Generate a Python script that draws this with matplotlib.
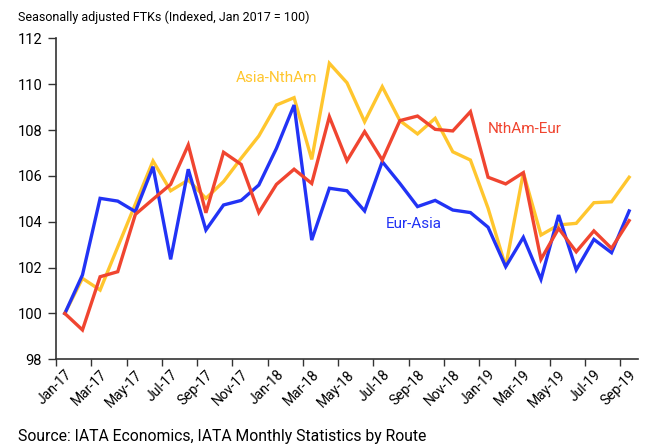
import matplotlib
matplotlib.use("Agg")
import matplotlib.pyplot as plt
import numpy as np

plt.rcParams['font.family'] = ['Roboto', 'DejaVu Sans']

months = ["Jan-17", "Feb-17", "Mar-17", "Apr-17", "May-17", "Jun-17", "Jul-17", "Aug-17",
          "Sep-17", "Oct-17", "Nov-17", "Dec-17", "Jan-18", "Feb-18", "Mar-18", "Apr-18",
          "May-18", "Jun-18", "Jul-18", "Aug-18", "Sep-18", "Oct-18", "Nov-18", "Dec-18",
          "Jan-19", "Feb-19", "Mar-19", "Apr-19", "May-19", "Jun-19", "Jul-19", "Aug-19",
          "Sep-19"]

eur_asia = [100.0, 101.68, 105.02, 104.9, 104.44, 106.4, 102.36, 106.29, 103.64, 104.73,
            104.93, 105.6, 107.2, 109.09, 103.2, 105.46, 105.35, 104.47, 106.62, 105.67,
            104.66, 104.93, 104.51, 104.4, 103.76, 102.04, 103.32, 101.49, 104.29, 101.9,
            103.23, 102.65, 104.47]

asia_ntham = [100.0, 101.53, 101.02, 102.9, 104.77, 106.65, 105.35, 105.82, 105.02, 105.75,
              106.77, 107.74, 109.09, 109.41, 106.72, 110.91, 110.06, 108.36, 109.89, 108.41,
              107.83, 108.51, 107.05, 106.69, 104.59, 102.04, 106.14, 103.42, 103.86, 103.93,
              104.83, 104.87, 105.94]

ntham_eur = [100.0, 99.28, 101.6, 101.82, 104.32, 104.98, 105.63, 107.35, 104.39, 107.03,
             106.5, 104.4, 105.63, 106.29, 105.67, 108.58, 106.66, 107.93, 106.69, 108.41,
             108.61, 108.03, 107.96, 108.8, 105.94, 105.65, 106.14, 102.36, 103.71, 102.69,
             103.6, 102.84, 104.05]

yticks = [98, 100, 102, 104, 106, 108, 110, 112]

BLUE = "#2233F5"
YELLOW = "#FFC62E"
RED = "#F04530"

fig = plt.figure(figsize=(6.49, 4.46), dpi=100)
ax = fig.add_axes([0.0863, 0.1944, 0.8967, 0.7197])

x = np.arange(len(months))
ax.plot(x, eur_asia, color=BLUE, lw=2.4, solid_joinstyle='miter', zorder=3)
ax.plot(x, asia_ntham, color=YELLOW, lw=2.4, solid_joinstyle='miter', zorder=2)
ax.plot(x, ntham_eur, color=RED, lw=2.4, solid_joinstyle='miter', zorder=4)

ax.set_xlim(-0.5, len(months) - 0.5)
ax.set_ylim(98, 112)
ax.set_yticks(yticks)
ax.set_yticklabels([str(v) for v in yticks], fontsize=10.5)

# major ticks at category boundaries, labels at category centres
ax.set_xticks(np.arange(-0.5, len(months) - 0.5, 2))
ax.set_xticklabels([])
ax.set_xticks(x[::2], minor=True)
ax.set_xticklabels(months[::2], minor=True, rotation=45, ha='right', va='top',
                   rotation_mode='anchor', fontsize=10)
ax.tick_params(axis='x', which='minor', length=0, pad=6)
ax.tick_params(axis='x', which='major', length=5, width=1, color='#333333')
ax.tick_params(axis='y', length=6, width=1, color='#333333', pad=4)

for s in ['top', 'right']:
    ax.spines[s].set_visible(False)
for s in ['left', 'bottom']:
    ax.spines[s].set_color('#333333')
    ax.spines[s].set_linewidth(1.2)

ax.text(12.0, 110.27, "Asia-NthAm", color=YELLOW, fontsize=11, ha='center', va='center')
ax.text(26.05, 108.04, "NthAm-Eur", color=RED, fontsize=11, ha='center', va='center')
ax.text(19.8, 103.9, "Eur-Asia", color=BLUE, fontsize=11, ha='center', va='center')

fig.text(18 / 649, 1 - 17 / 446, "Seasonally adjusted FTKs (Indexed, Jan 2017 = 100)",
         fontsize=9.0, ha='left', va='center')
fig.text(18 / 649, 1 - 437 / 446, "Source: IATA Economics, IATA Monthly Statistics by Route",
         fontsize=11.3, ha='left', va='center')

fig.savefig("out.png", dpi=100)
